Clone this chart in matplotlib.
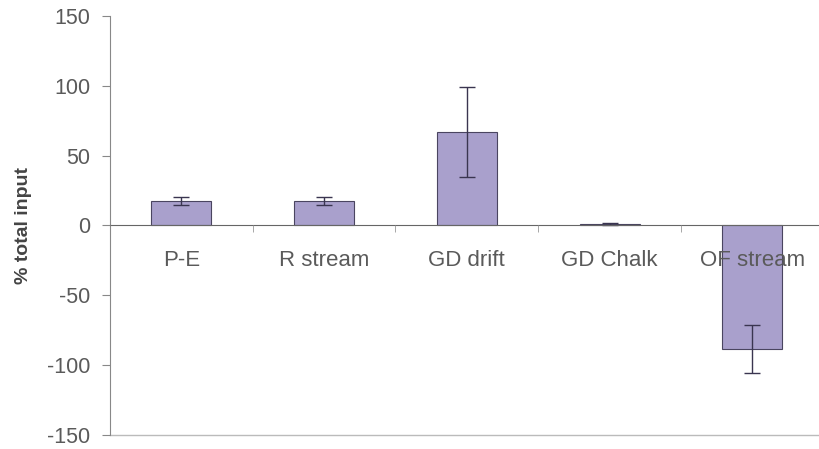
import numpy as np
import matplotlib.pyplot as plt

plt.rcParams["font.family"] = ["Liberation Sans", "DejaVu Sans"]
plt.rcParams["axes.unicode_minus"] = False

categories = ["P-E", "R stream", "GD drift", "GD Chalk", "OF stream"]
values = [17.5, 17.5, 67, 0.8, -88.5]
errors = [3.0, 3.0, 32, 0.6, 17]

fig = plt.figure(figsize=(8.19, 4.49), dpi=100)
ax = fig.add_axes([0.1343, 0.032, 0.8715, 0.932])

x = np.arange(len(categories))
ax.bar(x, values, width=0.42, color="#a9a0cc", edgecolor="#4a4560", linewidth=0.8,
       yerr=errors, error_kw=dict(ecolor="#3a3550", elinewidth=1.0, capsize=6, capthick=1.0),
       zorder=2)

ax.set_xlim(-0.5, len(categories) - 0.5)
ax.set_ylim(-150, 150)
ax.set_yticks(np.arange(-150, 151, 50))
ax.set_axisbelow(False)

# category axis crosses at zero
ax.spines["bottom"].set_position(("data", 0))
ax.spines["bottom"].set_color("#666666")
ax.spines["left"].set_color("#888888")
ax.spines["top"].set_visible(False)
ax.spines["right"].set_visible(False)
ax.axhline(-150, color="#bbbbbb", linewidth=1.0, clip_on=False)

ax.set_xticks(x)
ax.set_xticklabels(categories)
ax.set_xticks(np.arange(0.5, len(categories) - 1, 1), minor=True)
ax.tick_params(axis="x", which="major", length=0, pad=18, labelsize=16, labelcolor="#5a5a5a")
ax.tick_params(axis="x", which="minor", length=5, color="#999999")
ax.tick_params(axis="y", length=6, color="#888888", labelsize=15.5, labelcolor="#5a5a5a", pad=8)

ax.set_ylabel("% total input", fontsize=14, fontweight="bold", color="#444444", labelpad=11)

fig.savefig("out.png", dpi=100)
